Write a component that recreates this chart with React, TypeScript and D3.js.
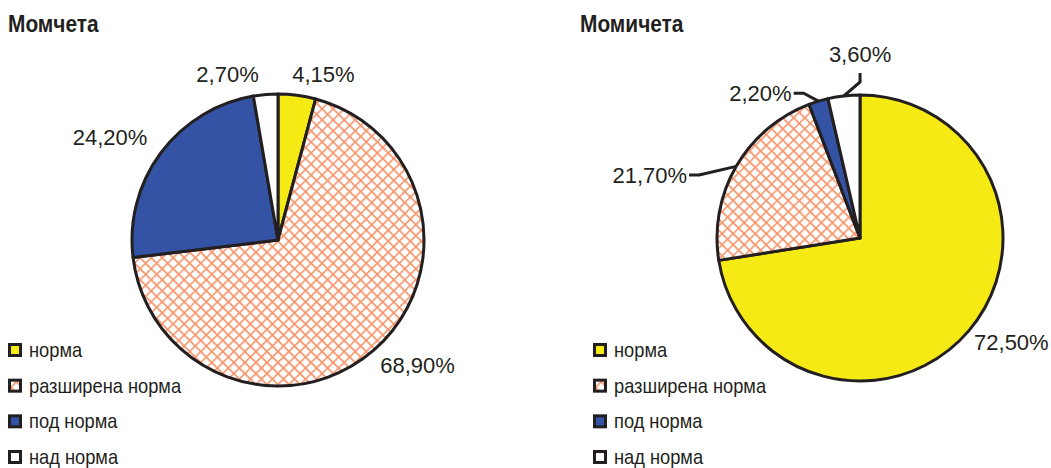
import React, { useEffect, useRef } from "react"
import * as d3 from "d3"

// categories (legend order == slice order, clockwise from 12 o'clock)
const categories = ["норма", "разширена норма", "под норма", "над норма"]
const boysValues = [4.15, 68.9, 24.2, 2.7]
const girlsValues = [72.5, 21.7, 2.2, 3.6]
const titles = ["Момчета", "Момичета"]

// label placement tweaks (degrees added to slice mid-angle, distance from centre, leader line)
const boysLabelLayout = [
  { dAngle: -2.3, dist: 157, leader: false },
  { dAngle: 0, dist: 156, leader: false },
  { dAngle: 0, dist: 163, leader: false },
  { dAngle: -2.2, dist: 157, leader: false },
]
const girlsLabelLayout = [
  { dAngle: 0, dist: 150, leader: false },
  { dAngle: -11, dist: 183, leader: true },
  { dAngle: -9.8, dist: 152, leader: true },
  { dAngle: 6.5, dist: 174, leader: true },
]

const fills = ["#F5EA14", "url(#hatch)", "#3553A4", "#FFFFFF"]
const ink = "#231F20"
const fmt = (v: number) => v.toFixed(2).replace(".", ",") + "%"

function drawPie(svg: any, opts: any) {
  const { values, layout, cx, cy, r, title, titleX, legendX } = opts
  const g = svg.append("g")

  g.append("text")
    .attr("transform", `translate(${titleX},32) scale(0.87,1)`)
    .attr("font-family", "Liberation Sans, Arial, sans-serif")
    .attr("font-weight", "bold")
    .attr("font-size", 24)
    .attr("fill", ink)
    .text(title)

  const pie = d3.pie<number>().sort(null).value((d) => d)
  const arcs = pie(values)
  const arc = d3.arc<any>().innerRadius(0).outerRadius(r)

  const pg = g.append("g").attr("transform", `translate(${cx},${cy})`)
  pg.selectAll("path")
    .data(arcs)
    .enter()
    .append("path")
    .attr("d", arc)
    .attr("fill", (d: any, i: number) => fills[i])
    .attr("stroke", ink)
    .attr("stroke-width", 3)
    .attr("stroke-linejoin", "round")

  // labels
  arcs.forEach((a: any, i: number) => {
    const lay = layout[i]
    const mid = (a.startAngle + a.endAngle) / 2
    const th = mid + (lay.dAngle * Math.PI) / 180
    const s = Math.sin(th)
    const c = Math.cos(th)
    const px = lay.dist * s
    const py = -lay.dist * c
    const anchor = Math.abs(s) < 0.02 ? "middle" : s > 0 ? "start" : "end"
    const yc = py - c * 10

    pg.append("text")
      .attr("x", px)
      .attr("y", yc)
      .attr("dy", "0.36em")
      .attr("text-anchor", anchor)
      .attr("font-family", "Liberation Sans, Arial, sans-serif")
      .attr("font-size", 22)
      .attr("fill", ink)
      .text(fmt(values[i]))

    if (lay.leader) {
      const ax = r * Math.sin(mid)
      const ay = -r * Math.cos(mid)
      let pts
      if (anchor === "middle") {
        const bottom = yc + 8
        pts = [[ax, ay], [px, bottom + 20], [px, bottom + 11]]
      } else {
        const dir = anchor === "end" ? 1 : -1
        pts = [[ax, ay], [px + dir * 12, yc], [px + dir * 2, yc]]
      }
      pg.append("path")
        .attr("d", d3.line()(pts as any))
        .attr("fill", "none")
        .attr("stroke", ink)
        .attr("stroke-width", 3)
        .attr("stroke-linejoin", "round")
    }
  })

  // legend
  const ly = d3.scalePoint().domain(categories).range([350, 457])
  const lg = g.append("g")
  categories.forEach((cat, i) => {
    const y = ly(cat) as number
    lg.append("rect")
      .attr("x", legendX + 1.5)
      .attr("y", y - 5.5)
      .attr("width", 11)
      .attr("height", 11)
      .attr("fill", fills[i])
      .attr("stroke", ink)
      .attr("stroke-width", 3)
    lg.append("text")
      .attr("transform", `translate(${legendX + 21},${y}) scale(0.87,1)`)
      .attr("dy", "0.34em")
      .attr("font-family", "Liberation Sans, Arial, sans-serif")
      .attr("font-size", 21)
      .attr("fill", ink)
      .text(cat)
  })
}

export default function App() {
  const ref = useRef<SVGSVGElement>(null)

  useEffect(() => {
    const svg = d3.select(ref.current)
    svg.selectAll("*").remove()

    const defs = svg.append("defs")
    const pat = defs
      .append("pattern")
      .attr("id", "hatch")
      .attr("patternUnits", "userSpaceOnUse")
      .attr("width", 7.8)
      .attr("height", 7.8)
      .attr("patternTransform", "rotate(45)")
    pat.append("rect").attr("width", 7.8).attr("height", 7.8).attr("fill", "#fff")
    pat.append("path")
      .attr("d", "M0,0.8H7.8M0.8,0V7.8")
      .attr("stroke", "#F7946A")
      .attr("stroke-width", 1.6)
      .attr("fill", "none")

    drawPie(svg, {
      values: boysValues,
      layout: boysLabelLayout,
      cx: 278,
      cy: 240,
      r: 146,
      title: titles[0],
      titleX: 8,
      legendX: 8,
    })
    drawPie(svg, {
      values: girlsValues,
      layout: girlsLabelLayout,
      cx: 860,
      cy: 238,
      r: 143,
      title: titles[1],
      titleX: 580,
      legendX: 593,
    })
  }, [])

  return (
    <svg
      ref={ref}
      width={1051}
      height={468}
      style={{ position: "absolute", left: 0, top: 0, background: "#fff" }}
    />
  )
}
